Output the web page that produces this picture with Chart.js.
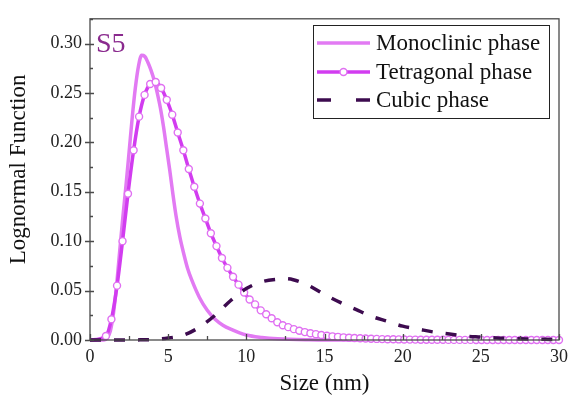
<!DOCTYPE html>
<html>
<head>
<meta charset="utf-8">
<script src="https://cdn.jsdelivr.net/npm/chart.js@4.4.1/dist/chart.umd.min.js"></script>
<style>
  html, body { margin: 0; padding: 0; background: #fff; }
  #wrap { width: 574px; height: 408px; }
</style>
</head>
<body>
<div id="wrap"><canvas id="myChart" width="574" height="408"></canvas></div>
<script>
// values (size in nm, lognormal function)
const monoX = [0, 0.9, 1.1, 1.3, 1.5, 1.7, 1.9, 2.1, 2.3, 2.5, 2.7, 2.9, 3.1, 3.3, 3.5, 3.7, 3.9, 4.1, 4.3, 4.5, 4.7, 4.9, 5.1, 5.3, 5.5, 5.75, 6.0, 6.25, 6.5, 7.0, 7.5, 8.0, 8.5, 9.0, 10, 11, 12, 14, 17, 30];
const monoY = [0, 0, 0.002, 0.009, 0.027, 0.055, 0.09, 0.124, 0.156, 0.19, 0.225, 0.255, 0.277, 0.288, 0.287, 0.281, 0.273, 0.263, 0.25, 0.235, 0.216, 0.194, 0.172, 0.148, 0.126, 0.104, 0.087, 0.072, 0.061, 0.043, 0.03, 0.021, 0.015, 0.011, 0.005, 0.0025, 0.0012, 0.0003, 0, 0];

const tetraX = [0, 1.02, 1.37, 1.73, 2.08, 2.43, 2.79, 3.14, 3.49, 3.85, 4.20, 4.55, 4.91, 5.26, 5.61, 5.97, 6.32, 6.67, 7.03, 7.38, 7.73,
  8.09, 8.44, 8.79, 9.15, 9.50, 9.86, 10.21, 10.56, 10.92, 11.27, 11.62, 11.98, 12.33, 12.68, 13.04, 13.39, 13.74, 14.10, 14.45, 14.80,
  15.16, 15.51, 15.86, 16.22, 16.57, 16.92, 17.28, 17.63, 17.98, 18.34, 18.69, 19.04, 19.40, 19.75, 20.10, 20.46, 20.81, 21.16, 21.52,
  21.87, 22.22, 22.58, 22.93, 23.28, 23.64, 23.99, 24.34, 24.70, 25.05, 25.40, 25.76, 26.11, 26.46, 26.82, 27.17, 27.52, 27.88, 28.23,
  28.58, 28.94, 29.29, 29.64, 30.00];
const tetraY = [0, 0.004, 0.021, 0.055, 0.100, 0.148, 0.192, 0.226, 0.248, 0.259, 0.261, 0.255, 0.243, 0.228, 0.210, 0.192, 0.173, 0.155, 0.138, 0.123, 0.108,
  0.095, 0.083, 0.073, 0.064, 0.056, 0.048, 0.041, 0.036, 0.030, 0.026, 0.022, 0.018, 0.015, 0.013, 0.011, 0.0093, 0.0080, 0.0069, 0.0059, 0.0050,
  0.0043, 0.0037, 0.0032, 0.0027, 0.0023, 0.0020, 0.0017, 0.0015, 0.0013, 0.0011, 0.0009, 0.0008, 0.0007, 0.0006, 0.0005, 0.0004, 0.0004, 0.0003, 0.0003,
  0.0002, 0.0002, 0.0002, 0.0001, 0.0001, 0.0001, 0.0001, 0.0001, 0, 0, 0, 0, 0, 0, 0, 0, 0, 0, 0,
  0, 0, 0, 0, 0];

const cubicX = [0, 2, 3, 4, 5, 6, 7, 8, 9, 10, 11, 12, 12.5, 13, 14, 15, 16, 17, 18, 19, 20, 21, 22, 23, 24, 25, 26, 27, 28, 29, 30];
const cubicY = [0, 0, 0.0001, 0.0005, 0.002, 0.005, 0.013, 0.025, 0.040, 0.052, 0.059, 0.0615, 0.062, 0.061, 0.055, 0.046, 0.038, 0.031, 0.024, 0.019, 0.014, 0.011, 0.008, 0.006, 0.004, 0.003, 0.002, 0.0015, 0.001, 0.0007, 0.0005];

const seriesNames = ["Monoclinic phase", "Tetragonal phase", "Cubic phase"];
const xTicks = [0, 5, 10, 15, 20, 25, 30];
const yTicks = [0, 0.05, 0.10, 0.15, 0.20, 0.25, 0.30];

const monoColor = '#e27af3';
const tetraColor = '#d23cf0';
const cubicColor = '#3d0b4f';
const serif = '"Liberation Serif", "Times New Roman", serif';

function pts(xs, ys) {
    return xs.map((x, i) => ({ x: x, y: ys[i] }));
}

// frame, inward ticks, axis titles, S5 tag and the boxed legend
const decor = {
    id: 'decor',
    afterDatasetsDraw(chart) {
        const c = chart.ctx;
        const a = chart.chartArea;
        const xs = chart.scales.x, ys = chart.scales.y;
        c.save();
        c.strokeStyle = '#4a4a4a';
        c.lineWidth = 1.3;
        c.strokeRect(a.left, a.top, a.right - a.left, a.bottom - a.top);

        c.beginPath();
        for (let v = 0; v <= 30.001; v += 2.5) {
            const px = Math.round(xs.getPixelForValue(v)) + 0.5;
            const major = Math.abs(v % 5) < 1e-6;
            c.moveTo(px, a.bottom);
            c.lineTo(px, a.bottom - (major ? 6 : 4));
        }
        for (let v = 0; v <= 0.3251; v += 0.025) {
            const py = Math.round(ys.getPixelForValue(v)) + 0.5;
            const major = Math.abs(v / 0.05 - Math.round(v / 0.05)) < 1e-6;
            c.moveTo(a.left - (major ? 5 : 0), py);
            c.lineTo(a.left + (major ? 4 : 3), py);
        }
        c.stroke();

        // axis titles
        c.fillStyle = '#111';
        c.font = '23px ' + serif;
        c.textAlign = 'center';
        c.textBaseline = 'middle';
        c.fillText('Size (nm)', (a.left + a.right) / 2, 384);
        c.save();
        c.translate(19, (a.top + a.bottom) / 2 - 10);
        c.rotate(-Math.PI / 2);
        c.fillText('Lognormal Function', 0, 0);
        c.restore();

        // sample tag
        c.fillStyle = '#8a2a8e';
        c.font = '28px ' + serif;
        c.textAlign = 'left';
        c.textBaseline = 'alphabetic';
        c.fillText('S5', 96, 52);

        // legend box
        c.fillStyle = '#fff';
        c.fillRect(313, 25, 236, 93);
        c.strokeStyle = '#222';
        c.lineWidth = 1;
        c.strokeRect(313.5, 25.5, 236, 93);
        const rows = [43, 72, 100];
        chart.data.datasets.forEach((ds, i) => {
            const y = rows[i];
            c.save();
            c.strokeStyle = ds.borderColor;
            c.lineWidth = ds.borderWidth;
            c.setLineDash(i === 2 ? [14, 25] : []);
            c.beginPath();
            c.moveTo(317, y);
            c.lineTo(370, y);
            c.stroke();
            if (i === 1) {
                c.setLineDash([]);
                c.beginPath();
                c.arc(343.5, y, 3.5, 0, Math.PI * 2);
                c.fillStyle = '#fff';
                c.fill();
                c.strokeStyle = ds.pointBorderColor;
                c.lineWidth = 1.4;
                c.stroke();
            }
            c.restore();
            c.fillStyle = '#111';
            c.font = '23px ' + serif;
            c.textAlign = 'left';
            c.textBaseline = 'middle';
            c.fillText(ds.label, 376, y + 1);
        });
        c.restore();
    }
};

const ctx = document.getElementById('myChart');
const lognormalChart = new Chart(ctx, {
    type: 'line',
    data: {
        datasets: [{
            label: seriesNames[0],
            data: pts(monoX, monoY),
            borderColor: monoColor,
            borderWidth: 3.5,
            pointRadius: 0,
            cubicInterpolationMode: 'monotone',
            order: 3,
            clip: false
        }, {
            label: seriesNames[1],
            data: pts(tetraX, tetraY),
            borderColor: tetraColor,
            borderWidth: 3.5,
            pointRadius: (c) => c.dataIndex === 0 ? 0 : 3.5,
            pointBackgroundColor: '#fff',
            pointBorderColor: '#e070f2',
            pointBorderWidth: 1.4,
            cubicInterpolationMode: 'monotone',
            order: 2,
            clip: false
        }, {
            label: seriesNames[2],
            data: pts(cubicX, cubicY),
            borderColor: cubicColor,
            borderWidth: 3.5,
            borderDash: [11, 13],
            pointRadius: 0,
            cubicInterpolationMode: 'monotone',
            order: 1,
            clip: false
        }]
    },
    options: {
        responsive: false,
        animation: false,
        layout: { padding: { top: 13, right: 13, left: 0, bottom: 0 } },
        plugins: {
            legend: { display: false },
            tooltip: { enabled: false }
        },
        scales: {
            x: {
                type: 'linear',
                min: 0,
                max: 30,
                grid: { display: false, drawTicks: false },
                border: { display: false },
                afterFit: (s) => { s.height = 68; },
                afterBuildTicks: (s) => { s.ticks = xTicks.map(v => ({ value: v })); },
                ticks: {
                    padding: 6,
                    color: '#222',
                    font: { family: serif, size: 18 },
                    maxRotation: 0
                }
            },
            y: {
                min: 0,
                max: 0.325,
                grid: { display: false, drawTicks: false },
                border: { display: false },
                afterFit: (s) => { s.width = 90; },
                afterBuildTicks: (s) => { s.ticks = yTicks.map(v => ({ value: v })); },
                ticks: {
                    padding: 8,
                    color: '#222',
                    font: { family: serif, size: 18 },
                    callback: (v) => Number(v).toFixed(2)
                }
            }
        }
    },
    plugins: [decor]
});
</script>
</body>
</html>
